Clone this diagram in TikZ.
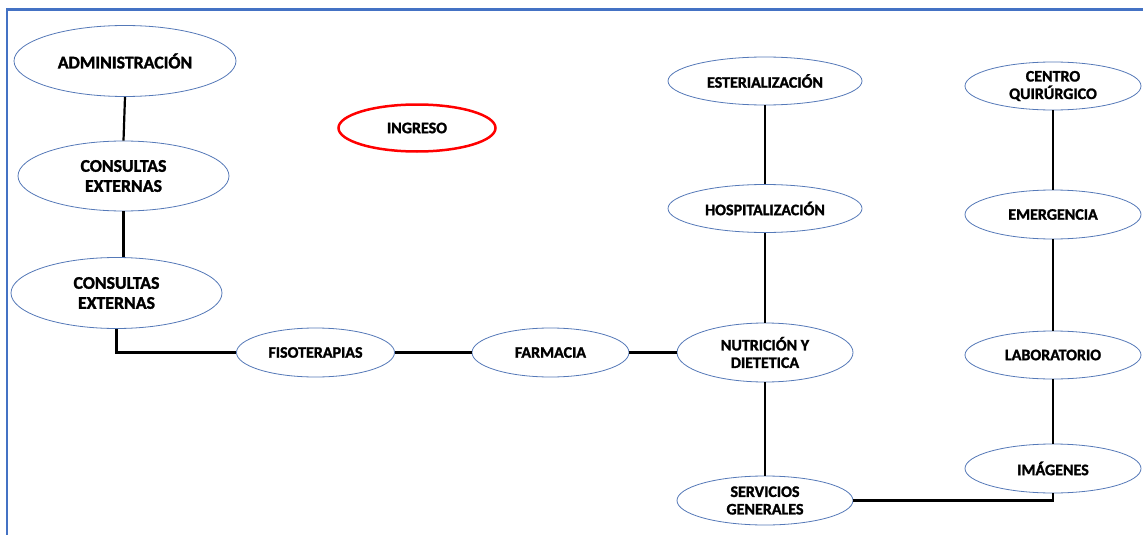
\documentclass[tikz,border=0pt]{standalone}
\usepackage{fontspec}
\setmainfont{Carlito}[BoldFont={Carlito Bold}, BoldFeatures={FakeBold=1.6}]
\usetikzlibrary{shapes.geometric}
\definecolor{frameblue}{HTML}{4472C4}
\definecolor{ovalblue}{HTML}{5579B8}
\definecolor{ingresored}{HTML}{FF0000}
\tikzset{
  area/.style={ellipse, draw=ovalblue, line width=0.8pt, fill=white, inner sep=0pt,
    align=center, font=\bfseries\fontsize{16}{17.5}\selectfont},
  bigarea/.style={area, font=\bfseries\fontsize{17.8}{20}\selectfont},
  link/.style={draw=black, line width=2.2pt},
}
\begin{document}
\begin{tikzpicture}[x=1pt,y=-1pt]
\useasboundingbox (0,0) rectangle (1143,535);
% frame along the top and left sides
\draw[frameblue, line width=2.5pt] (7,535) -- (7,9.5) -- (1143,9.5);

% left column
\node[bigarea, minimum width=222pt, minimum height=71pt] (admin) at (125,61) {ADMINISTRACIÓN};
\node[bigarea, minimum width=211pt, minimum height=70pt] (ceA) at (123.5,176) {CONSULTAS\\EXTERNAS};
\node[bigarea, minimum width=211pt, minimum height=71pt] (ceB) at (116.5,293) {CONSULTAS\\EXTERNAS};

% middle row
\node[area, minimum width=158pt, minimum height=49pt] (fiso) at (315.5,352.5) {FISOTERAPIAS};
\node[area, minimum width=157pt, minimum height=49pt] (farm) at (550.5,352.5) {FARMACIA};
\node[ellipse, draw=ingresored, line width=2.5pt, fill=white, inner sep=0pt,
  font=\bfseries\fontsize{16}{17.5}\selectfont,
  minimum width=157pt, minimum height=47pt] (ingreso) at (417,128) {INGRESO};

% centre column
\node[area, minimum width=194pt, minimum height=48pt] (ester) at (765,81) {ESTERIALIZACIÓN};
\node[area, minimum width=194pt, minimum height=48pt] (hosp) at (765,208.5) {HOSPITALIZACIÓN};
\node[area, minimum width=176pt, minimum height=59pt] (nutri) at (765,352.5) {NUTRICIÓN Y\\DIETETICA};
\node[area, minimum width=176pt, minimum height=49pt] (serv) at (765,500.5) {SERVICIOS\\GENERALES};

% right column
\node[area, minimum width=176pt, minimum height=48pt] (cq) at (1053,86) {CENTRO\\QUIRÚRGICO};
\node[area, minimum width=176pt, minimum height=49pt] (emer) at (1053,214.5) {EMERGENCIA};
\node[area, minimum width=176pt, minimum height=48pt] (lab) at (1053,355) {LABORATORIO};
\node[area, minimum width=176pt, minimum height=49pt] (img) at (1053,468.5) {IMÁGENES};

% connections
\draw[link] (admin.south) -- (ceA.north);
\draw[link] (ceA.south) -- (ceA.south |- ceB.north);
\draw[link] (ceB.south) |- (fiso.west);
\draw[link] (fiso.east) -- (farm.west);
\draw[link] (farm.east) -- (nutri.west);
\draw[link] (ester.south) -- (hosp.north);
\draw[link] (hosp.south) -- (nutri.north);
\draw[link] (nutri.south) -- (serv.north);
\draw[link] (serv.east) -| (img.south);
\draw[link] (img.north) -- (lab.south);
\draw[link] (lab.north) -- (emer.south);
\draw[link] (emer.north) -- (cq.south);
\end{tikzpicture}
\end{document}
